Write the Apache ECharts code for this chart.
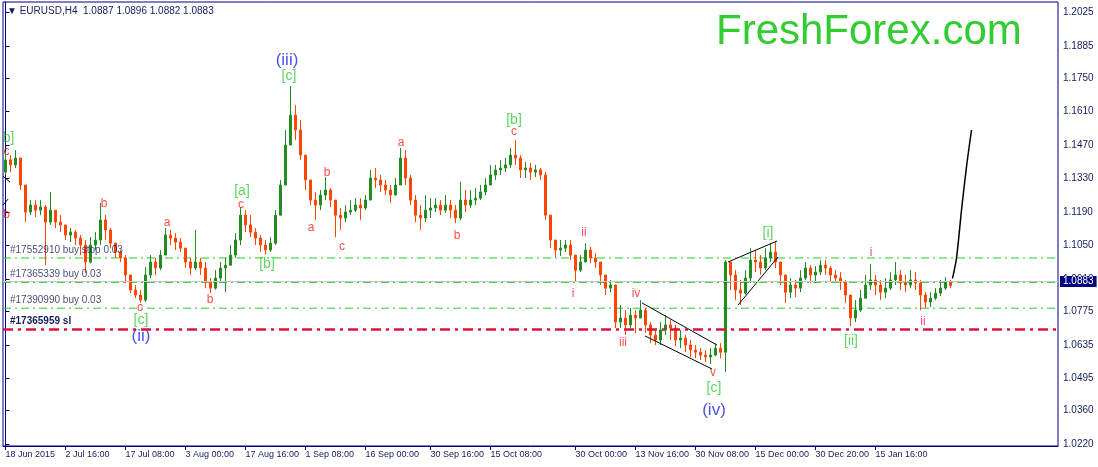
<!DOCTYPE html>
<html><head><meta charset="utf-8">
<script src="https://cdn.jsdelivr.net/npm/echarts@6/dist/echarts.min.js"></script>
<style>html,body{margin:0;padding:0;background:#fff}#c{width:1098px;height:467px}</style>
</head><body><div id="c"></div>
<script>
// ---- data (EURUSD H4, each candle groups several H4 bars) ----
const firstOpen = 1.1357;
const closes = [
1.1408,1.1387,1.1416,1.1303,1.1190,1.1219,1.1198,1.1211,1.1148,1.1198,
1.1148,1.1136,1.1094,1.1106,1.1081,1.1052,1.0981,1.1052,1.1073,1.1157,
1.1115,1.1060,1.1023,1.0998,1.0927,1.0864,1.0843,1.0822,1.0927,1.0981,
1.0956,1.1010,1.1094,1.1081,1.1064,1.1039,1.0981,1.0956,1.0981,1.0956,
1.0897,1.0872,1.0914,1.0956,1.0968,1.1010,1.1073,1.1177,1.1136,1.1106,
1.1081,1.1052,1.1031,1.1060,1.1177,1.1303,1.1470,1.1595,1.1533,1.1428,
1.1324,1.1240,1.1219,1.1261,1.1282,1.1240,1.1177,1.1165,1.1190,1.1198,
1.1219,1.1207,1.1240,1.1332,1.1324,1.1303,1.1282,1.1261,1.1303,1.1416,
1.1332,1.1240,1.1177,1.1165,1.1198,1.1207,1.1219,1.1198,1.1219,1.1198,
1.1165,1.1240,1.1219,1.1240,1.1248,1.1274,1.1303,1.1345,1.1366,1.1374,
1.1387,1.1428,1.1416,1.1366,1.1374,1.1357,1.1366,1.1345,1.1177,1.1073,
1.1031,1.1039,1.1052,1.1010,1.0947,1.0981,1.1031,1.0998,1.0981,1.0927,
1.0872,1.0885,1.0730,1.0747,1.0718,1.0759,1.0747,1.0780,1.0718,1.0676,
1.0655,1.0697,1.0718,1.0705,1.0655,1.0663,1.0634,1.0613,1.0604,1.0592,
1.0584,1.0592,1.0621,1.0604,1.0981,1.0927,1.0864,1.0851,1.0914,1.0989,
1.0981,1.0956,1.0998,1.1023,1.0981,1.0927,1.0855,1.0885,1.0872,1.0914,
1.0956,1.0927,1.0939,1.0968,1.0956,1.0927,1.0914,1.0897,1.0843,1.0747,
1.0780,1.0830,1.0885,1.0906,1.0885,1.0855,1.0872,1.0906,1.0927,1.0893,
1.0885,1.0906,1.0893,1.0843,1.0814,1.0830,1.0851,1.0872,1.0897,1.0883];
const highs = [
1.1441,1.1428,1.1449,1.1416,1.1303,1.1240,1.1240,1.1240,1.1219,1.1274,
1.1198,1.1177,1.1136,1.1123,1.1115,1.1094,1.1073,1.1085,1.1106,1.1228,
1.1177,1.1123,1.1060,1.1031,1.1010,1.0927,1.0885,1.0864,1.0960,1.1010,
1.0998,1.1031,1.1123,1.1115,1.1102,1.1081,1.1039,1.0998,1.1115,1.0998,
1.0981,1.0914,1.0947,1.0981,1.0998,1.1052,1.1102,1.1211,1.1198,1.1177,
1.1123,1.1094,1.1073,1.1085,1.1198,1.1324,1.1533,1.1717,1.1637,1.1574,
1.1428,1.1324,1.1274,1.1282,1.1336,1.1290,1.1240,1.1207,1.1219,1.1240,
1.1248,1.1248,1.1261,1.1366,1.1374,1.1345,1.1324,1.1303,1.1332,1.1458,
1.1449,1.1345,1.1261,1.1219,1.1261,1.1248,1.1248,1.1240,1.1261,1.1240,
1.1219,1.1316,1.1282,1.1282,1.1290,1.1303,1.1332,1.1387,1.1387,1.1408,
1.1416,1.1458,1.1491,1.1428,1.1399,1.1395,1.1387,1.1374,1.1357,1.1177,
1.1073,1.1073,1.1073,1.1073,1.1010,1.1010,1.1060,1.1044,1.1018,1.0981,
1.0927,1.0906,1.0885,1.0801,1.0780,1.0789,1.0780,1.0822,1.0789,1.0730,
1.0697,1.0730,1.0759,1.0738,1.0718,1.0697,1.0676,1.0655,1.0634,1.0621,
1.0613,1.0621,1.0642,1.0642,1.0989,1.0981,1.0947,1.0906,1.0947,1.1039,
1.1031,1.1010,1.1039,1.1060,1.1064,1.0981,1.0927,1.0914,1.0906,1.0947,
1.0981,1.0968,1.0964,1.0989,1.0989,1.0964,1.0947,1.0939,1.0906,1.0843,
1.0822,1.0864,1.0927,1.0972,1.0927,1.0906,1.0914,1.0939,1.0981,1.0947,
1.0927,1.0947,1.0939,1.0906,1.0855,1.0855,1.0872,1.0906,1.0918,1.0906];
const lows = [
1.1345,1.1357,1.1374,1.1282,1.1148,1.1177,1.1169,1.1177,1.0968,1.1136,
1.1123,1.1106,1.1073,1.1064,1.1052,1.1010,1.0935,1.0975,1.1031,1.1052,
1.1073,1.1039,1.0998,1.0981,1.0893,1.0851,1.0830,1.0810,1.0814,1.0914,
1.0927,1.0947,1.1010,1.1052,1.1031,1.1023,1.0956,1.0927,1.0947,1.0927,
1.0872,1.0851,1.0865,1.0897,1.0855,1.0968,1.0998,1.1052,1.1106,1.1085,
1.1052,1.1023,1.1014,1.1023,1.1052,1.1177,1.1303,1.1470,1.1491,1.1408,
1.1282,1.1219,1.1157,1.1198,1.1240,1.1211,1.1085,1.1115,1.1148,1.1177,
1.1190,1.1157,1.1198,1.1240,1.1290,1.1274,1.1261,1.1228,1.1261,1.1303,
1.1303,1.1219,1.1148,1.1115,1.1148,1.1165,1.1190,1.1177,1.1186,1.1165,
1.1144,1.1155,1.1190,1.1207,1.1219,1.1240,1.1261,1.1303,1.1324,1.1345,
1.1357,1.1374,1.1387,1.1332,1.1332,1.1324,1.1336,1.1324,1.1157,1.1039,
1.1002,1.1006,1.1023,1.0989,1.0897,1.0939,1.0981,1.0977,1.0956,1.0885,
1.0843,1.0855,1.0705,1.0705,1.0676,1.0705,1.0684,1.0747,1.0684,1.0642,
1.0634,1.0634,1.0676,1.0655,1.0630,1.0621,1.0604,1.0584,1.0579,1.0571,
1.0562,1.0554,1.0588,1.0579,1.0521,1.0864,1.0822,1.0801,1.0845,1.0893,
1.0939,1.0927,1.0947,1.0981,1.0956,1.0885,1.0810,1.0830,1.0835,1.0855,
1.0906,1.0893,1.0893,1.0927,1.0927,1.0897,1.0897,1.0864,1.0810,1.0713,
1.0730,1.0772,1.0830,1.0864,1.0843,1.0822,1.0830,1.0864,1.0885,1.0864,
1.0855,1.0872,1.0864,1.0780,1.0789,1.0793,1.0822,1.0839,1.0864,1.0872];
const totalSlots = 211;
const xLabelIdx = [0,12,24,36,48,60,72,85,97,114,126,138,150,162,174];
const xLabelText = ['18 Jun 2015','2 Jul 16:00','17 Jul 08:00','3 Aug 00:00','17 Aug 16:00','1 Sep 08:00','16 Sep 00:00','30 Sep 16:00','15 Oct 08:00','30 Oct 00:00','13 Nov 16:00','30 Nov 08:00','15 Dec 00:00','30 Dec 20:00','15 Jan 16:00'];
const yTicks = [1.2025,1.1885,1.1750,1.1610,1.1470,1.1330,1.1190,1.1050,1.0910,1.0775,1.0635,1.0495,1.0360,1.0220];
const yMin = 1.0212, yMax = 1.2068;
const orderLevels = [1.0998, 1.0896, 1.0788];
const orderTexts = ['#17552910 buy stop 0.03', '#17365339 buy 0.03', '#17390990 buy 0.03'];
const slLevel = 1.0702;
const slText = '#17365959 sl';
const currentPrice = 1.0883;
const titleText = '\u25BC EURUSD,H4  1.0887 1.0896 1.0882 1.0883';
const waveLabels = [
 ['(iii)',56.3,1.1825,'blue'],['[c]',56.7,1.1758,'green'],
 ['b]',0.6,1.1499,'green'],['c',0.2,1.1441,'red'],['b',0.2,1.1177,'red'],
 ['b',19.7,1.1227,'red'],['a',32.3,1.1144,'red'],['[a]',47.3,1.1278,'green'],['c',47.1,1.1219,'red'],
 ['[b]',52.3,1.0972,'green'],['b',40.9,1.0822,'red'],['c',26.9,1.0789,'red'],['[c]',27.1,1.0738,'green'],['(ii)',27.1,1.0672,'blue'],
 ['a',61.1,1.1123,'red'],['b',64.3,1.1353,'red'],['c',67.3,1.1044,'red'],['a',79.1,1.1478,'red'],['b',90.3,1.1090,'red'],
 ['[b]',101.7,1.1574,'green'],['c',101.7,1.1524,'red'],
 ['ii',115.7,1.1102,'red'],['i',113.5,1.0847,'red'],['iv',126.1,1.0847,'red'],['iii',123.5,1.0642,'red'],['v',141.5,1.0517,'red'],
 ['[c]',141.7,1.0454,'green'],['(iv)',141.7,1.0362,'blue'],
 ['[i]',152.5,1.1102,'green'],['i',173.1,1.1018,'pink'],['[ii]',169.1,1.0651,'green'],['ii',183.5,1.0730,'pink']
];
const trendLines = [
 [[127.3,1.0810],[142.3,1.0634]],
 [[127.9,1.0672],[141.3,1.0534]],
 [[144.5,1.0981],[154.3,1.1069]],
 [[146.5,1.0801],[154.5,1.1002]],
 [[-0.5,1.1340],[0.9,1.1315]],
 [[-0.5,1.1219],[0.5,1.1244]]
];
const projection = [[189.4,1.0913],[190.2,1.0997],[191.2,1.1198],[192.2,1.1379],[193.2,1.1533]];

// ---- build ----
const categories = new Array(totalSlots).fill('');
xLabelIdx.forEach((k, j) => { categories[k] = xLabelText[j]; });
const ohlc = closes.map((c, i) => {
  const o = i === 0 ? firstOpen : closes[i - 1];
  return [o, c, lows[i], highs[i]];
});
const NAVY = '#000080';
const TXT = '#141c5c';
const GREEN = '#22cc22';
const FONT = '"Liberation Sans", Arial, sans-serif';
const waveStyle = {
  red: {color: '#ff1a1a', fontSize: 12},
  pink: {color: '#ff1060', fontSize: 12},
  green: {color: '#33cc33', fontSize: 14},
  blue: {color: '#2222e6', fontSize: 17}
};
const showLabel = (idx, val) => val !== '';
const xLo = -0.5, xHi = totalSlots - 0.5;

const series = [{
  type: 'candlestick',
  xAxisIndex: 0, yAxisIndex: 0,
  data: ohlc,
  barWidth: 3,
  itemStyle: {color: '#228b22', color0: '#ff4500', borderColor: '#228b22', borderColor0: '#ff4500', borderWidth: 1},
  markLine: {silent: true, symbol: ['none', 'none'], animation: false, data: [
    {yAxis: slLevel,
     lineStyle: {color: '#dc143c', type: [10, 5, 3, 5], width: 2.5},
     label: {show: true, formatter: slText, position: 'insideStartTop', distance: [7, 3], color: TXT, fontSize: 10, fontWeight: 'bold', fontFamily: FONT}},
    {yAxis: currentPrice,
     lineStyle: {color: '#c8c8c8', type: 'solid', width: 1},
     label: {show: true, formatter: currentPrice.toFixed(4), position: 'end', distance: 2, color: '#fff', backgroundColor: NAVY, padding: [1, 3, 0, 3], fontSize: 10, fontFamily: FONT}}
  ]}
}];
// pending order lines (green dash-dot) with their texts
orderLevels.forEach((lv, j) => {
  series.push({
    type: 'line', xAxisIndex: 1, yAxisIndex: 0, symbol: 'none', silent: true, z: 1,
    data: [[xLo, lv], [xHi, lv]],
    lineStyle: {color: GREEN, type: [8, 4, 2, 4], width: 1}
  });
  series.push({
    type: 'scatter', xAxisIndex: 1, yAxisIndex: 0, symbolSize: 0, silent: true, z: 3,
    itemStyle: {color: 'transparent'},
    data: [{value: [xLo, lv], label: {show: true, formatter: orderTexts[j], position: 'right', distance: 7, offset: [0, -8], color: TXT, fontSize: 10, fontFamily: FONT}}]
  });
});
trendLines.forEach(seg => series.push({
  type: 'line', xAxisIndex: 1, yAxisIndex: 0, data: seg, symbol: 'none', silent: true,
  lineStyle: {color: '#000', width: 1}
}));
series.push({
  type: 'line', xAxisIndex: 1, yAxisIndex: 0, data: projection, symbol: 'none', silent: true, smooth: 0.3,
  lineStyle: {color: '#000', width: 1.5}
});
series.push({
  type: 'scatter', xAxisIndex: 1, yAxisIndex: 0, symbolSize: 0, silent: true, z: 4,
  itemStyle: {color: 'transparent'},
  label: {show: true, position: 'inside', fontFamily: FONT},
  data: waveLabels.map(w => ({
    value: [w[1], w[2]],
    label: {formatter: w[0], color: waveStyle[w[3]].color, fontSize: waveStyle[w[3]].fontSize, fontFamily: FONT}
  }))
});

const chart = echarts.init(document.getElementById('c'), null, {renderer: 'canvas'});
chart.setOption({
  animation: false,
  backgroundColor: '#ffffff',
  grid: {left: 3, right: 40, top: 2, bottom: 21, show: true, borderColor: NAVY, borderWidth: 1, backgroundColor: 'transparent'},
  xAxis: [{
    type: 'category', data: categories, boundaryGap: true,
    axisLine: {lineStyle: {color: NAVY, width: 1}},
    axisTick: {show: true, interval: showLabel, alignWithLabel: true, length: 4, lineStyle: {color: NAVY}},
    axisLabel: {interval: showLabel, align: 'left', margin: 4, color: TXT, fontSize: 9, fontFamily: FONT, hideOverlap: false},
    splitLine: {show: false}
  }, {
    type: 'value', min: xLo, max: xHi, show: false
  }],
  yAxis: [{
    type: 'value', position: 'right', min: yMin, max: yMax,
    axisLine: {show: true, lineStyle: {color: NAVY, width: 1}},
    axisTick: {show: true, length: 4, customValues: yTicks, lineStyle: {color: NAVY}},
    axisLabel: {customValues: yTicks, formatter: v => v.toFixed(4), margin: 5, color: TXT, fontSize: 10, fontFamily: FONT},
    splitLine: {show: false}
  }],
  graphic: [
    {type: 'text', left: 7, top: 6, silent: true, style: {text: titleText, fill: TXT, font: '10px ' + FONT}},
    {type: 'text', left: 716, top: 11, silent: true, style: {text: 'FreshForex.com', fill: '#32cd32', font: '42px ' + FONT}}
  ],
  series: series
});
</script>
</body></html>
